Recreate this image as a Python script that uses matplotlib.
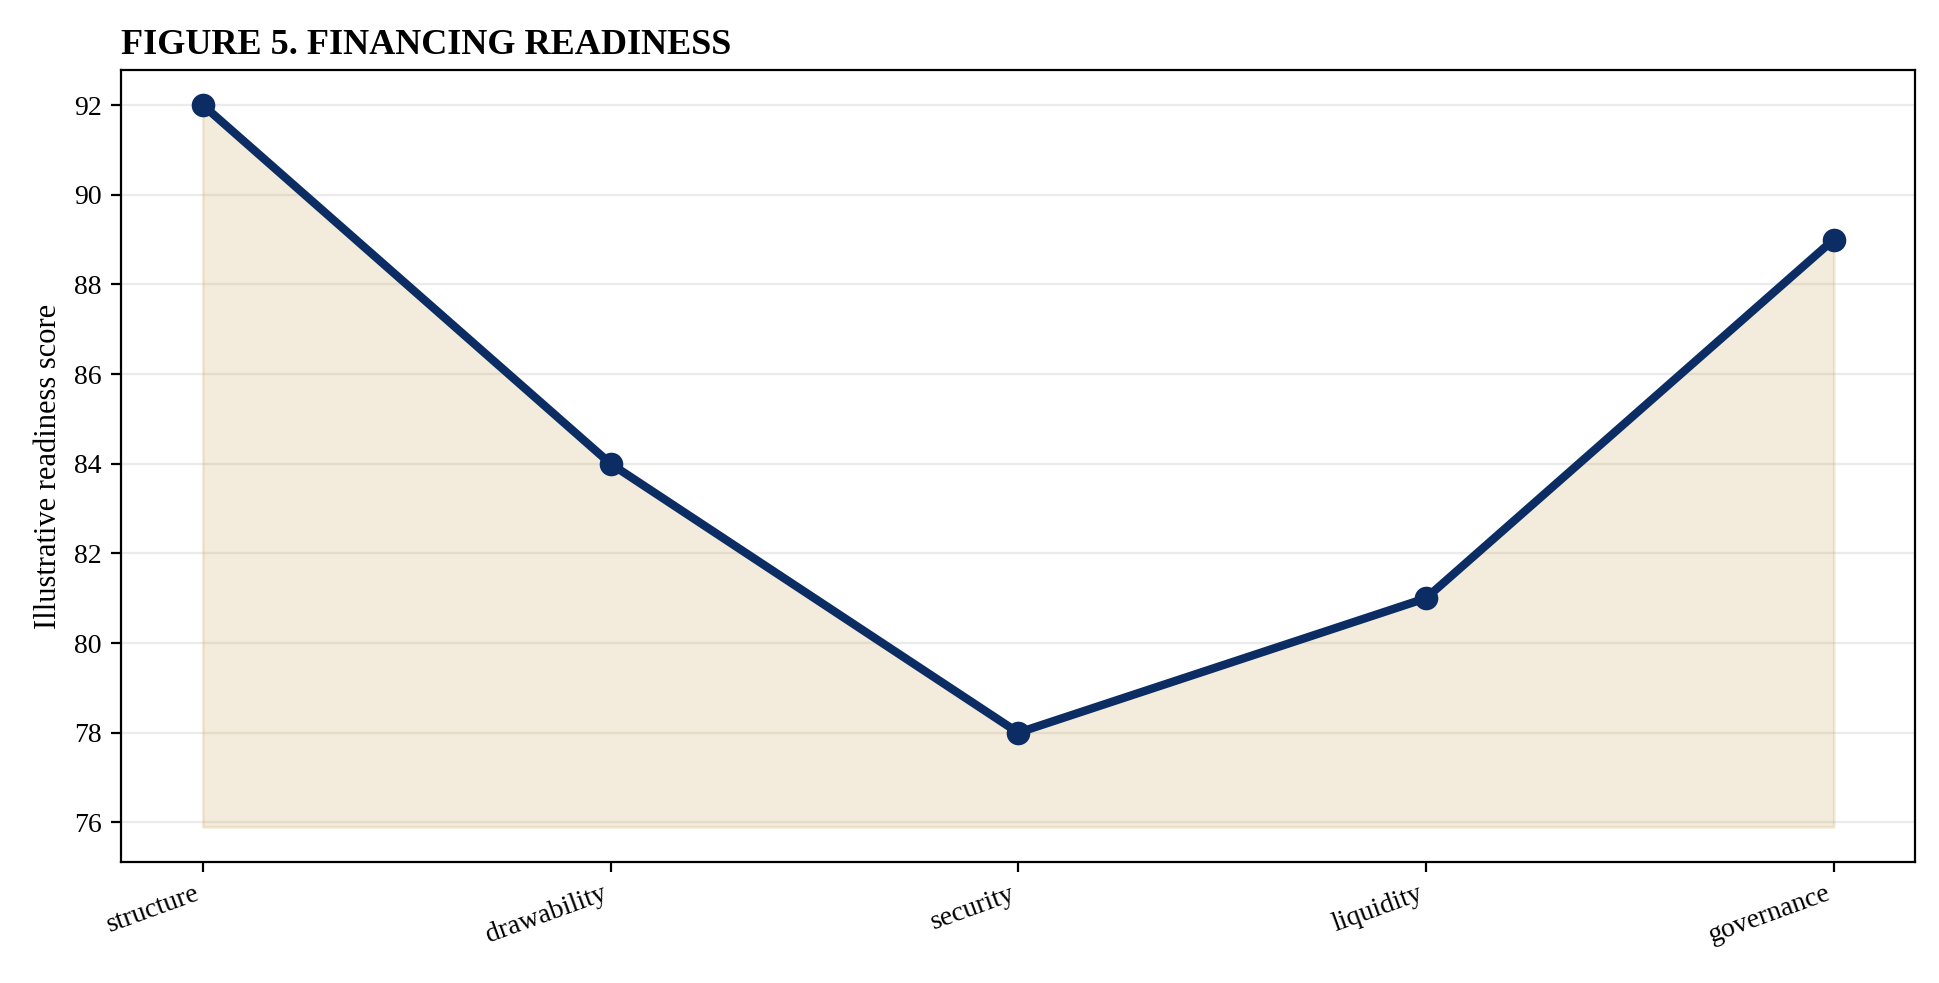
import matplotlib
matplotlib.use("Agg")
import matplotlib.pyplot as plt

categories = ["structure", "drawability", "security", "liquidity", "governance"]
scores = [92, 84, 78, 81, 89]
yticks = [76, 78, 80, 82, 84, 86, 88, 90, 92]
fill_base = 75.9

plt.rcParams['font.family'] = ['Liberation Serif', 'DejaVu Serif']
fig = plt.figure(figsize=(9.7, 4.915), dpi=200)
W, H = 1568, 795
ax = fig.add_axes([98/W, 1-697/H, 1450/W, 640/H])
x = list(range(len(categories)))
ax.fill_between(x, fill_base, scores, color="#c9a85c", alpha=0.22, linewidth=1)
ax.plot(x, scores, color="#0b2d63", linewidth=3, marker="o", markersize=7.5, zorder=3)
ax.set_xlim(-0.2, 4.2)
ax.set_ylim(75.12, 92.77)
ax.set_yticks(yticks)
ax.set_xticks(x)
ax.set_xticklabels(categories, rotation=20, ha="right", fontsize=10)
ax.tick_params(axis='y', labelsize=10)
ax.yaxis.grid(True, color="#ebebeb", linewidth=0.8)
ax.set_axisbelow(True)
ax.set_ylabel("Illustrative readiness score", fontsize=11)
ax.set_title("FIGURE 5. FINANCING READINESS", loc="left", fontweight="bold", fontsize=13)
fig.savefig("out.png", dpi=200)
